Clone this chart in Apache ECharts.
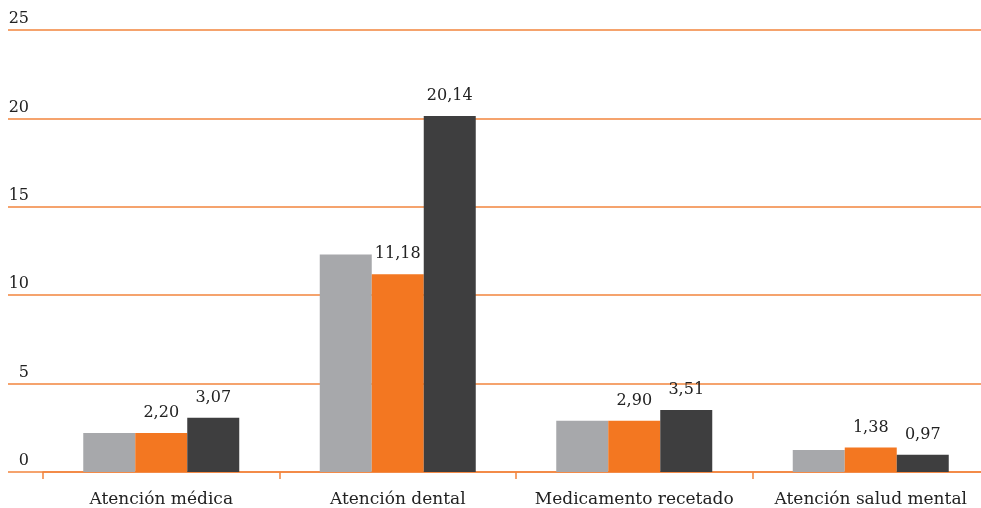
<!DOCTYPE html>
<html><head><meta charset="utf-8">
<script src="https://cdn.jsdelivr.net/npm/echarts@6/dist/echarts.min.js"></script>
<style>html,body{margin:0;padding:0;background:#fff}#c{width:981px;height:508px}</style>
</head><body><div id="c"></div>
<script>
const categories = ['Atención médica', 'Atención dental', 'Medicamento recetado', 'Atención salud mental'];
const seriesGray = [2.20, 12.30, 2.90, 1.25];
const seriesOrange = [2.20, 11.18, 2.90, 1.38];
const seriesDark = [3.07, 20.14, 3.51, 0.97];
const yTicks = [0, 5, 10, 15, 20, 25];

const font = 'DejaVu Serif';
const lineColor = '#F2843C';
const fmt = v => v.toFixed(2).replace('.', ',');
const chart = echarts.init(document.getElementById('c'));
const labelCfg = {show: true, position: 'top', distance: 12, color: '#222', fontFamily: font, fontSize: 16,
  formatter: p => fmt(p.value)};
chart.setOption({
  animation: false,
  grid: [
    {left: 43, width: 946, top: 30, bottom: 36, outerBoundsMode: 'none', containLabel: false},
    {left: 8, right: 0, top: 30, bottom: 36, outerBoundsMode: 'none', containLabel: false}
  ],
  xAxis: [
    {type: 'category', data: categories, gridIndex: 0,
     axisLine: {show: true, lineStyle: {color: lineColor, width: 1.5}},
     axisTick: {show: true, interval: 0, length: 7, lineStyle: {color: lineColor, width: 1.5}},
     axisLabel: {interval: 0, color: '#222', fontFamily: font, fontSize: 17, margin: 19}},
    {type: 'category', data: ['a'], gridIndex: 1, show: false}
  ],
  yAxis: [
    {type: 'value', gridIndex: 0, min: 0, max: 25, interval: 5, show: false, splitLine: {show: false}},
    {type: 'value', gridIndex: 1, min: yTicks[0], max: yTicks[yTicks.length - 1], interval: 5,
     axisLine: {show: false}, axisTick: {show: false},
     splitLine: {show: true, lineStyle: {color: lineColor, width: 1.5, type: 'solid', opacity: 1}},
     axisLabel: {inside: true, align: 'right', verticalAlign: 'bottom', margin: 21, padding: [0, 0, 3, 0],
       color: '#222', fontFamily: font, fontSize: 16}}
  ],
  series: [
    {type: 'bar', data: seriesGray, barWidth: 52, barGap: '0%', itemStyle: {color: '#A7A8AB'}},
    {type: 'bar', data: seriesOrange, barWidth: 52, barGap: '0%', itemStyle: {color: '#F37721'}, label: labelCfg},
    {type: 'bar', data: seriesDark, barWidth: 52, barGap: '0%', itemStyle: {color: '#3E3E3F'}, label: labelCfg}
  ]
});
</script></body></html>
